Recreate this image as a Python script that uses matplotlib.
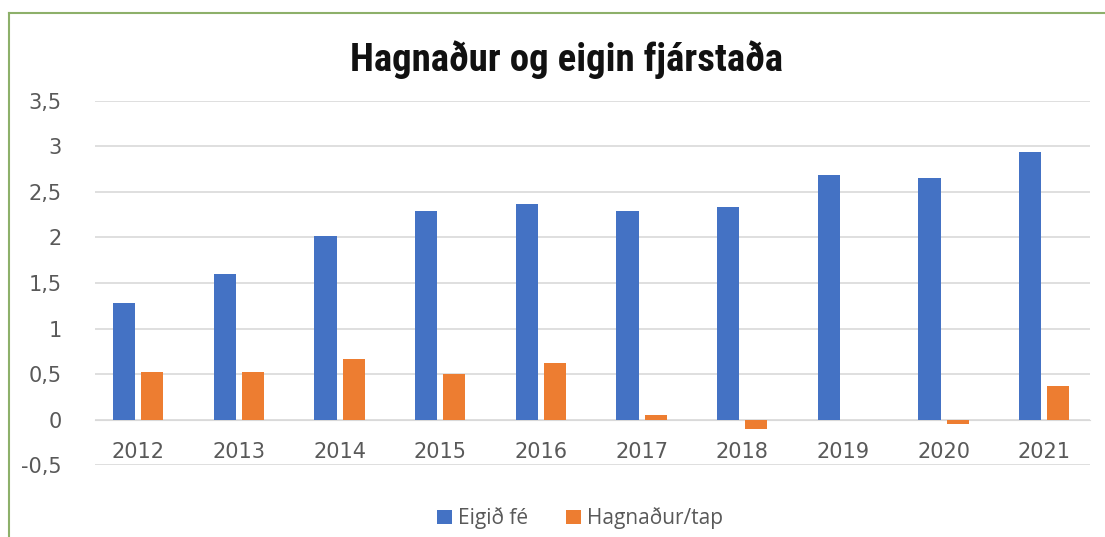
import matplotlib.pyplot as plt
from matplotlib.lines import Line2D
import numpy as np

years = ["2012", "2013", "2014", "2015", "2016", "2017", "2018", "2019", "2020", "2021"]
eigid_fe = [1.28, 1.60, 2.02, 2.29, 2.37, 2.29, 2.33, 2.69, 2.65, 2.94]
hagnadur = [0.52, 0.52, 0.67, 0.50, 0.62, 0.05, -0.10, 0.0, -0.05, 0.37]
y_ticks = [-0.5, 0, 0.5, 1, 1.5, 2, 2.5, 3, 3.5]
y_labels = ["-0,5", "0", "0,5", "1", "1,5", "2", "2,5", "3", "3,5"]

blue = "#4472C4"
orange = "#ED7D31"
grey_txt = "#595959"

fig = plt.figure(figsize=(11.05, 5.37), dpi=100)
ax = fig.add_axes([0.086, 0.134, 0.9, 0.678])

x = np.arange(len(years))
w = 0.22
ax.bar(x - 0.14, eigid_fe, w, color=blue, label="Eigið fé", zorder=3)
ax.bar(x + 0.14, hagnadur, w, color=orange, label="Hagnaður/tap", zorder=3)

ax.set_xlim(-0.43, 9.45)
ax.set_ylim(-0.5, 3.5)
ax.set_yticks(y_ticks)
ax.set_yticklabels(y_labels)
ax.set_xticks(x)
ax.set_xticklabels(years)
ax.grid(axis="y", color="#D9D9D9", linewidth=1.2, zorder=0)

for s in ["top", "right", "left"]:
    ax.spines[s].set_visible(False)
ax.spines["bottom"].set_position(("data", 0))
ax.spines["bottom"].set_color("#D9D9D9")
ax.tick_params(axis="x", length=0, pad=16, labelsize=15, labelcolor=grey_txt)
ax.tick_params(axis="y", length=0, pad=24, labelsize=15, labelcolor=grey_txt)

fig.text(0.513, 0.888, "Hagnaður og eigin fjárstaða", ha="center", va="center",
         fontsize=28, fontweight="bold", color="#111111",
         family=["Roboto Condensed", "Open Sans Condensed", "Roboto", "DejaVu Sans"])

leg = fig.legend(loc="center", bbox_to_anchor=(0.525, 0.035), ncol=2, frameon=False,
                 handlelength=0.7, handleheight=0.7, columnspacing=1.8,
                 handletextpad=0.3, prop={"family": ["Open Sans", "DejaVu Sans"], "size": 15})
for t in leg.get_texts():
    t.set_color(grey_txt)

# green frame around the chart (top and left edges)
border = "#8DB06A"
fig.add_artist(Line2D([0.008, 1.0], [0.976, 0.976], color=border, linewidth=1.5))
fig.add_artist(Line2D([0.008, 0.008], [0.0, 0.976], color=border, linewidth=1.5))

fig.savefig("out.png", dpi=100)
